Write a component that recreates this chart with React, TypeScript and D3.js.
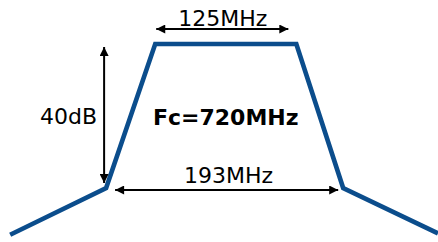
import React from 'react';
import * as d3 from 'd3';

// filter mask outline (frequency in MHz, attenuation in dB)
const freqs = [529, 614, 657.5, 782.5, 824, 908];
const atten = [-53, -40, 0, 0, -40, -52.6];

const passband = [657.5, 782.5];
const stopband = [614, 824];
const centerFreq = 720;
const depth = 40;

const labels = { pass: '125MHz', stop: '193MHz', depth: '40dB', center: 'Fc=720MHz' };

const W = 438;
const H = 242;
const FONT = '"DejaVu Sans", Verdana, sans-serif';

const App: React.FC = () => {
  const x = d3.scaleLinear().domain([520, 908]).range([0, W]);
  const y = d3.scaleLinear().domain([0, -40]).range([44, 188]);

  const pts = freqs.map((f, i) => [x(f), y(atten[i])] as [number, number]);
  const line = d3.line()(pts) || '';

  const passY = y(0) - 15;
  const stopY = y(-depth) + 2;
  const depthX = x(stopband[0]) - 2;

  return (
    <svg width={W} height={H} style={{ position: 'absolute', left: 0, top: 0 }}>
      <defs>
        <marker id="ah" viewBox="0 0 10 10" refX="10" refY="5" markerWidth="10" markerHeight="9"
          markerUnits="userSpaceOnUse" orient="auto-start-reverse">
          <path d="M0,0 L10,5 L0,10 z" fill="#000" />
        </marker>
      </defs>
      <rect width={W} height={H} fill="#fff" />
      <path d={line} fill="none" stroke="#0b4d8c" strokeWidth={4.6} strokeLinejoin="miter" />

      {/* passband width */}
      <line x1={x(passband[0]) + 1} x2={x(passband[1]) - 8} y1={passY} y2={passY}
        stroke="#000" strokeWidth={2} markerStart="url(#ah)" markerEnd="url(#ah)" />
      <text x={(x(passband[0]) + x(passband[1])) / 2 - 3} y={passY - 3} textAnchor="middle"
        fontFamily={FONT} fontSize={22}>{labels.pass}</text>

      {/* stopband width */}
      <line x1={x(stopband[0]) + 9} x2={x(stopband[1]) - 5} y1={stopY} y2={stopY}
        stroke="#000" strokeWidth={2} markerStart="url(#ah)" markerEnd="url(#ah)" />
      <text x={(x(stopband[0]) + x(stopband[1])) / 2 + 4} y={stopY - 7} textAnchor="middle"
        fontFamily={FONT} fontSize={22}>{labels.stop}</text>

      {/* depth */}
      <line x1={depthX} x2={depthX} y1={y(0) + 3} y2={y(-depth) - 5}
        stroke="#000" strokeWidth={2} markerStart="url(#ah)" markerEnd="url(#ah)" />
      <text x={depthX - 7} y={y(-depth / 2) + 8} textAnchor="end"
        fontFamily={FONT} fontSize={22}>{labels.depth}</text>

      <text x={x(centerFreq)} y={y(-depth / 2) + 9} textAnchor="middle"
        fontFamily={FONT} fontSize={22} fontWeight="bold">{labels.center}</text>
    </svg>
  );
};

export default App;
